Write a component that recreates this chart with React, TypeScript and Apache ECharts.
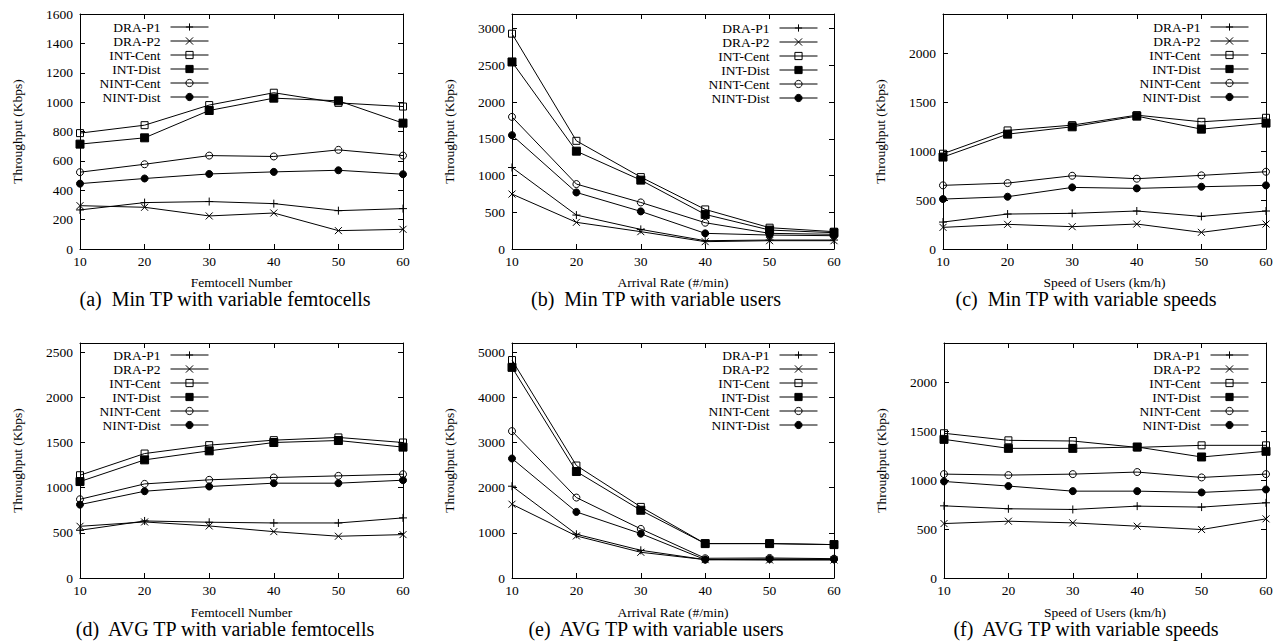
import React, { useEffect, useRef } from "react";
import * as echarts from "echarts";

const xs = [10, 20, 30, 40, 50, 60];
const seriesNames = ["DRA-P1", "DRA-P2", "INT-Cent", "INT-Dist", "NINT-Cent", "NINT-Dist"];

// (a) Min TP with variable femtocells
const draP1A = [266, 316, 323, 309, 261, 275];
const draP2A = [295, 284, 225, 245, 125, 134];
const intCentA = [789, 843, 980, 1064, 995, 970];
const intDistA = [714, 757, 943, 1027, 1009, 857];
const nintCentA = [523, 577, 636, 630, 675, 636];
const nintDistA = [445, 480, 511, 525, 536, 509];

// (b) Min TP with variable users
const draP1B = [1110, 462, 267, 113, 122, 122];
const draP2B = [748, 363, 236, 100, 113, 113];
const intCentB = [2932, 1473, 979, 539, 290, 236];
const intDistB = [2547, 1332, 938, 471, 258, 222];
const nintCentB = [1799, 884, 634, 358, 213, 200];
const nintDistB = [1550, 770, 512, 213, 190, 181];

// (c) Min TP with variable speeds
const draP1C = [275, 357, 364, 388, 333, 388];
const draP2C = [221, 252, 228, 255, 170, 255];
const intCentC = [973, 1211, 1265, 1367, 1299, 1340];
const intDistC = [939, 1173, 1248, 1357, 1224, 1286];
const nintCentC = [650, 673, 748, 718, 752, 789];
const nintDistC = [510, 534, 629, 619, 636, 650];

// (d) AVG TP with variable femtocells
const draP1D = [528, 631, 617, 609, 609, 665];
const draP2D = [572, 620, 576, 513, 462, 480];
const intCentD = [1137, 1377, 1470, 1525, 1555, 1499];
const intDistD = [1067, 1307, 1407, 1499, 1521, 1448];
const nintCentD = [871, 1041, 1086, 1112, 1130, 1148];
const nintDistD = [812, 960, 1012, 1049, 1049, 1082];

// (e) AVG TP with variable users
const draP1E = [2031, 968, 613, 406, 406, 406];
const draP2E = [1632, 931, 569, 406, 399, 399];
const intCentE = [4823, 2489, 1573, 761, 761, 739];
const intDistE = [4661, 2356, 1499, 761, 761, 739];
const nintCentE = [3250, 1780, 1086, 436, 443, 428];
const nintDistE = [2644, 1462, 982, 406, 421, 414];

// (f) AVG TP with variable speeds
const draP1F = [737, 707, 700, 734, 724, 768];
const draP2F = [556, 580, 563, 529, 495, 604];
const intCentF = [1478, 1406, 1399, 1334, 1355, 1355];
const intDistF = [1416, 1324, 1324, 1338, 1236, 1294];
const nintCentF = [1061, 1051, 1061, 1082, 1027, 1061];
const nintDistF = [986, 939, 887, 887, 874, 904];

const xNames = ["Femtocell Number", "Arrival Rate (#/min)", "Speed of Users (km/h)"];
const yName = "Throughput (Kbps)";
const captions = [
  "(a)  Min TP with variable femtocells",
  "(b)  Min TP with variable users",
  "(c)  Min TP with variable speeds",
  "(d)  AVG TP with variable femtocells",
  "(e)  AVG TP with variable users",
  "(f)  AVG TP with variable speeds",
];
const yMaxes = [1600, 3200, 2400, 2600, 5200, 2400];
const yIntervals = [200, 500, 500, 500, 1000, 500];

const panels = [
  [draP1A, draP2A, intCentA, intDistA, nintCentA, nintDistA],
  [draP1B, draP2B, intCentB, intDistB, nintCentB, nintDistB],
  [draP1C, draP2C, intCentC, intDistC, nintCentC, nintDistC],
  [draP1D, draP2D, intCentD, intDistD, nintCentD, nintDistD],
  [draP1E, draP2E, intCentE, intDistE, nintCentE, nintDistE],
  [draP1F, draP2F, intCentF, intDistF, nintCentF, nintDistF],
];

const FONT = "Liberation Serif";

// layout
const gridBoxes = [
  { left: 80, top: 14, width: 323, height: 235 },
  { left: 512, top: 14, width: 322, height: 235 },
  { left: 943, top: 14, width: 323, height: 235 },
  { left: 80, top: 343, width: 323, height: 235 },
  { left: 512, top: 343, width: 322, height: 235 },
  { left: 944, top: 343, width: 322, height: 235 },
];
const legendRight = [1069, 460, 29, 1069, 460, 29];
const legendTop = [20, 21, 20, 348, 348, 348];
const captionPos = [
  [225, 299], [656, 299], [1086, 299],
  [225, 629], [656, 629], [1086, 629],
];
const xNameY = [282, 282, 282, 612, 612, 612];

const symbolDefs = [
  { symbol: "path://M5,0L5,10M0,5L10,5", size: 8, fill: "transparent" },
  { symbol: "path://M0,0L10,10M10,0L0,10", size: 7, fill: "transparent" },
  { symbol: "rect", size: 7, fill: "transparent" },
  { symbol: "rect", size: 8, fill: "#000" },
  { symbol: "circle", size: 7, fill: "transparent" },
  { symbol: "circle", size: 7, fill: "#000" },
];

function buildOption() {
  const grid: any[] = [];
  const xAxis: any[] = [];
  const yAxis: any[] = [];
  const series: any[] = [];
  const legend: any[] = [];
  const graphic: any[] = [];

  panels.forEach((panel, p) => {
    const g = gridBoxes[p];
    grid.push({ ...g, containLabel: false });
    const xBase = {
      type: "value",
      gridIndex: p,
      min: 10,
      max: 60,
      interval: 10,
      splitLine: { show: false },
      axisLine: { show: true, onZero: false, lineStyle: { color: "#000", width: 1 } },
      axisTick: { show: true, inside: true, length: 5, lineStyle: { color: "#000" } },
    };
    xAxis.push({
      ...xBase,
      position: "bottom",
      axisLabel: { fontFamily: FONT, fontSize: 13.5, color: "#000", margin: 5 },
    });
    xAxis.push({ ...xBase, position: "top", axisLabel: { show: false } });
    const yBase = {
      type: "value",
      gridIndex: p,
      min: 0,
      max: yMaxes[p],
      interval: yIntervals[p],
      splitLine: { show: false },
      axisLine: { show: true, onZero: false, lineStyle: { color: "#000", width: 1 } },
      axisTick: { show: true, inside: true, length: 5, lineStyle: { color: "#000" } },
    };
    yAxis.push({
      ...yBase,
      position: "left",
      axisLabel: {
        fontFamily: FONT,
        fontSize: 13.5,
        color: "#000",
        margin: 7,
        showMaxLabel: yMaxes[p] % yIntervals[p] === 0,
        formatter: (v: number) => String(v),
      },
    });
    yAxis.push({ ...yBase, position: "right", axisLabel: { show: false } });

    panel.forEach((vals, s) => {
      const sd = symbolDefs[s];
      series.push({
        type: "line",
        name: seriesNames[s],
        xAxisIndex: p * 2,
        yAxisIndex: p * 2,
        data: xs.map((x, i) => [x, vals[i]]),
        symbol: sd.symbol,
        symbolSize: sd.size,
        showAllSymbol: true,
        color: "#000",
        lineStyle: { color: "#000", width: 1 },
        itemStyle: { color: sd.fill, borderColor: "#000", borderWidth: 1 },
        emphasis: { disabled: true },
        z: 2,
      });
    });

    legend.push({
      data: seriesNames,
      orient: "vertical",
      align: "right",
      right: legendRight[p],
      top: legendTop[p],
      padding: 0,
      itemGap: 0,
      itemWidth: 38,
      itemHeight: 9,
      selectedMode: false,
      textStyle: { fontFamily: FONT, fontSize: 13.5, color: "#000", lineHeight: 13.5, padding: [0, 5, 0, 0] },
      itemStyle: { borderWidth: 1, borderColor: "#000" },
      lineStyle: { width: 1, color: "#000" },
    });

    // x axis name
    graphic.push({
      type: "text",
      x: g.left + g.width / 2,
      y: xNameY[p],
      style: {
        text: xNames[p % 3],
        fontFamily: FONT,
        fontSize: 13.5,
        fill: "#000",
        align: "center",
        verticalAlign: "middle",
      },
    });
    // y axis name
    graphic.push({
      type: "text",
      x: g.left - 63,
      y: g.top + g.height / 2,
      rotation: Math.PI / 2,
      style: {
        text: yName,
        fontFamily: FONT,
        fontSize: 13.5,
        fill: "#000",
        align: "center",
        verticalAlign: "middle",
      },
    });
    // caption
    graphic.push({
      type: "text",
      x: captionPos[p][0],
      y: captionPos[p][1],
      style: {
        text: captions[p],
        fontFamily: FONT,
        fontSize: 20,
        fill: "#000",
        align: "center",
        verticalAlign: "middle",
      },
    });
  });

  return {
    animation: false,
    backgroundColor: "#fff",
    grid,
    xAxis,
    yAxis,
    series,
    legend,
    graphic,
  };
}

export default function App() {
  const ref = useRef<HTMLDivElement>(null);
  useEffect(() => {
    if (!ref.current) return;
    const chart = echarts.init(ref.current, undefined, { renderer: "svg" });
    chart.setOption(buildOption() as any);
    return () => chart.dispose();
  }, []);
  return (
    <div
      ref={ref}
      style={{ position: "absolute", left: 0, top: 0, width: 1278, height: 641, background: "#fff" }}
    />
  );
}
